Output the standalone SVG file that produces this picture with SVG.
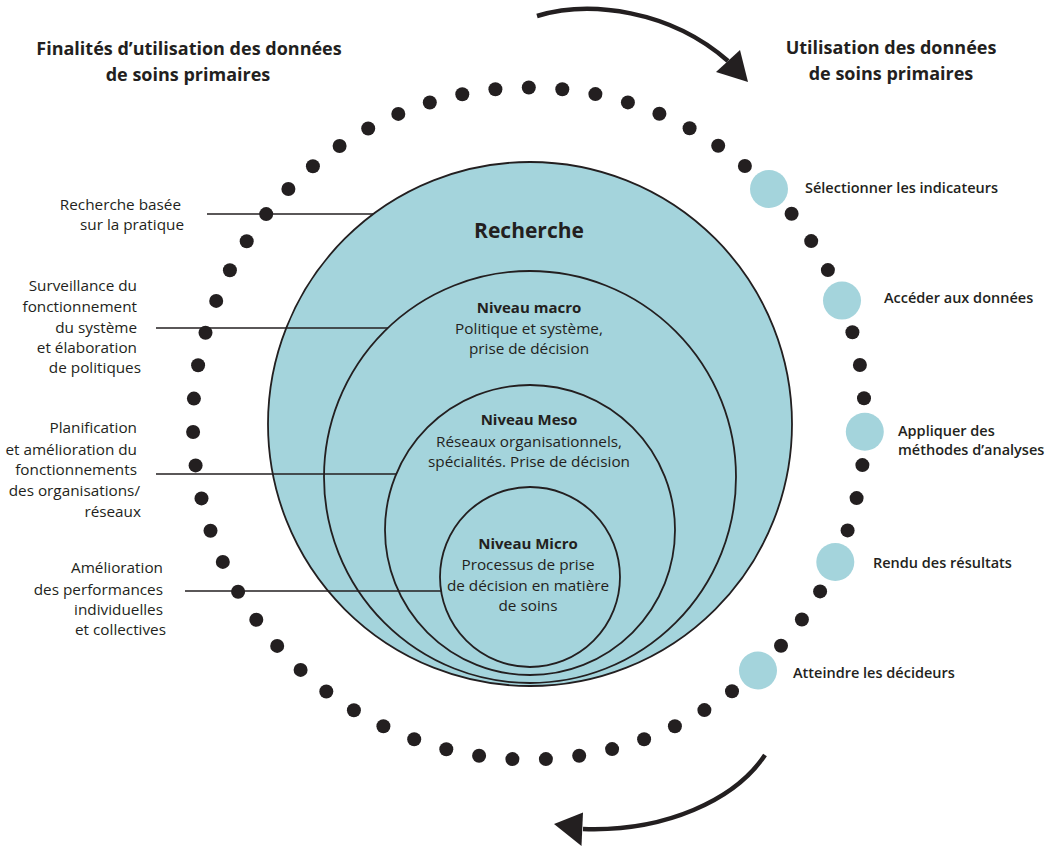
<svg xmlns="http://www.w3.org/2000/svg" width="1056" height="847" viewBox="0 0 1056 847">
<style>
text{font-family:"Open Sans","Noto Sans","Liberation Sans",sans-serif;fill:#231f20}
.t{font-size:18px;font-weight:700;text-anchor:middle}
.l{font-size:15.3px;text-anchor:end}
.r{font-size:14.5px;font-weight:600}
.c{font-size:15.3px;text-anchor:middle}
.b{font-weight:700;font-size:15px}
.ring{fill:#a4d4dc;stroke:#231f20;stroke-width:1.8}
.dot{fill:#231f20}
.step{fill:#a4d4dc}
.ln{stroke:#231f20;stroke-width:1.6;fill:none}
.arr{stroke:#231f20;stroke-width:4.5;fill:none}
.head{fill:#231f20}
</style>
<rect width="1056" height="847" fill="#ffffff"/>
<g id="titles">
<text class="t" x="189" y="55">Finalités d’utilisation des données</text>
<text class="t" x="188" y="81">de soins primaires</text>
<text class="t" x="891" y="54">Utilisation des données</text>
<text class="t" x="891" y="80">de soins primaires</text>
</g>
<g id="recherche">
<circle class="ring" cx="530" cy="424" r="262"/>
<text x="529" y="238" style="font-size:21px;font-weight:700;text-anchor:middle">Recherche</text>
</g>
<g id="macro">
<circle class="ring" cx="530" cy="477" r="206"/>
<text class="c b" x="529" y="313">Niveau macro</text>
<text class="c" x="529" y="333.5">Politique et système,</text>
<text class="c" x="529" y="354">prise de décision</text>
</g>
<g id="meso">
<circle class="ring" cx="530" cy="530" r="145"/>
<text class="c b" x="529" y="425">Niveau Meso</text>
<text class="c" x="529" y="446.5">Réseaux organisationnels,</text>
<text class="c" x="529" y="467">spécialités. Prise de décision</text>
</g>
<g id="micro">
<circle class="ring" cx="530" cy="577" r="90"/>
<text class="c b" x="528" y="549">Niveau Micro</text>
<text class="c" x="528" y="570">Processus de prise</text>
<text class="c" x="528" y="590.5">de décision en matière</text>
<text class="c" x="528" y="611">de soins</text>
</g>
<g id="connectors">
<line class="ln" x1="207" y1="214" x2="373" y2="214"/>
<line class="ln" x1="156" y1="328" x2="388" y2="328"/>
<line class="ln" x1="156" y1="474" x2="397" y2="474"/>
<line class="ln" x1="185" y1="591" x2="441" y2="591"/>
<path class="arr" d="M537,16 C590,0 670,10 728,61"/>
<polygon class="head" points="748,82 716,72 740,50"/>
<path class="arr" d="M765,755 C735,800 665,832 583,829"/>
<polygon class="head" points="554,824 583,812.5 581.5,846"/>
</g>
<g id="dotted-ring">
<circle class="dot" cx="862.4" cy="465.1" r="7"/>
<circle class="dot" cx="856.6" cy="498.1" r="7"/>
<circle class="dot" cx="847.6" cy="530.4" r="7"/>
<circle class="dot" cx="820.1" cy="591.4" r="7"/>
<circle class="dot" cx="801.9" cy="619.5" r="7"/>
<circle class="dot" cx="781.0" cy="645.7" r="7"/>
<circle class="dot" cx="732.0" cy="691.3" r="7"/>
<circle class="dot" cx="704.4" cy="710.1" r="7"/>
<circle class="dot" cx="674.9" cy="726.2" r="7"/>
<circle class="dot" cx="644.1" cy="739.2" r="7"/>
<circle class="dot" cx="612.1" cy="749.1" r="7"/>
<circle class="dot" cx="579.2" cy="755.7" r="7"/>
<circle class="dot" cx="545.9" cy="759.1" r="7"/>
<circle class="dot" cx="512.4" cy="759.1" r="7"/>
<circle class="dot" cx="479.1" cy="755.8" r="7"/>
<circle class="dot" cx="446.3" cy="749.2" r="7"/>
<circle class="dot" cx="414.2" cy="739.3" r="7"/>
<circle class="dot" cx="383.4" cy="726.3" r="7"/>
<circle class="dot" cx="353.9" cy="710.3" r="7"/>
<circle class="dot" cx="326.3" cy="691.5" r="7"/>
<circle class="dot" cx="300.6" cy="669.9" r="7"/>
<circle class="dot" cx="277.2" cy="645.9" r="7"/>
<circle class="dot" cx="256.3" cy="619.8" r="7"/>
<circle class="dot" cx="238.1" cy="591.7" r="7"/>
<circle class="dot" cx="222.8" cy="561.9" r="7"/>
<circle class="dot" cx="210.5" cy="530.7" r="7"/>
<circle class="dot" cx="201.5" cy="498.4" r="7"/>
<circle class="dot" cx="195.6" cy="465.4" r="7"/>
<circle class="dot" cx="193.1" cy="432.0" r="7"/>
<circle class="dot" cx="193.9" cy="398.6" r="7"/>
<circle class="dot" cx="198.1" cy="365.3" r="7"/>
<circle class="dot" cx="205.5" cy="332.7" r="7"/>
<circle class="dot" cx="216.2" cy="300.9" r="7"/>
<circle class="dot" cx="229.9" cy="270.3" r="7"/>
<circle class="dot" cx="246.7" cy="241.3" r="7"/>
<circle class="dot" cx="266.2" cy="214.1" r="7"/>
<circle class="dot" cx="288.4" cy="189.0" r="7"/>
<circle class="dot" cx="312.9" cy="166.2" r="7"/>
<circle class="dot" cx="339.6" cy="146.0" r="7"/>
<circle class="dot" cx="368.2" cy="128.5" r="7"/>
<circle class="dot" cx="398.3" cy="113.9" r="7"/>
<circle class="dot" cx="429.8" cy="102.5" r="7"/>
<circle class="dot" cx="462.3" cy="94.2" r="7"/>
<circle class="dot" cx="495.4" cy="89.2" r="7"/>
<circle class="dot" cx="528.8" cy="87.5" r="7"/>
<circle class="dot" cx="562.3" cy="89.2" r="7"/>
<circle class="dot" cx="595.4" cy="94.1" r="7"/>
<circle class="dot" cx="627.9" cy="102.4" r="7"/>
<circle class="dot" cx="659.4" cy="113.8" r="7"/>
<circle class="dot" cx="689.6" cy="128.3" r="7"/>
<circle class="dot" cx="718.2" cy="145.8" r="7"/>
<circle class="dot" cx="744.9" cy="166.0" r="7"/>
<circle class="dot" cx="791.6" cy="213.8" r="7"/>
<circle class="dot" cx="811.2" cy="241.1" r="7"/>
<circle class="dot" cx="827.9" cy="270.1" r="7"/>
<circle class="dot" cx="852.4" cy="332.3" r="7"/>
<circle class="dot" cx="859.9" cy="365.0" r="7"/>
<circle class="dot" cx="864.0" cy="398.2" r="7"/>
</g>
<g id="label-pratique">
<text class="l" x="181" y="210">Recherche basée</text>
<text class="l" x="184" y="230">sur la pratique</text>
</g>
<g id="label-surveillance">
<text class="l" x="137" y="291">Surveillance du</text>
<text class="l" x="137" y="312">fonctionnement</text>
<text class="l" x="137" y="333">du système</text>
<text class="l" x="137" y="353">et élaboration</text>
<text class="l" x="141" y="373">de politiques</text>
</g>
<g id="label-planification">
<text class="l" x="137" y="433">Planification</text>
<text class="l" x="137" y="455">et amélioration du</text>
<text class="l" x="137" y="475">fonctionnements</text>
<text class="l" x="140" y="496">des organisations/</text>
<text class="l" x="141" y="517">réseaux</text>
</g>
<g id="label-amelioration">
<text class="l" x="163" y="573">Amélioration</text>
<text class="l" x="163" y="595">des performances</text>
<text class="l" x="163" y="615">individuelles</text>
<text class="l" x="166" y="635">et collectives</text>
</g>
<g id="step-selectionner">
<circle class="step" cx="769" cy="189" r="19"/>
<text class="r" x="805" y="193">Sélectionner les indicateurs</text>
</g>
<g id="step-acceder">
<circle class="step" cx="842" cy="300.6" r="19"/>
<text class="r" x="884" y="303">Accéder aux données</text>
</g>
<g id="step-appliquer">
<circle class="step" cx="864.8" cy="431.7" r="19"/>
<text class="r" x="898" y="436">Appliquer des</text>
<text class="r" x="898" y="455">méthodes d’analyses</text>
</g>
<g id="step-rendu">
<circle class="step" cx="835.3" cy="562" r="19"/>
<text class="r" x="873" y="568">Rendu des résultats</text>
</g>
<g id="step-atteindre">
<circle class="step" cx="758" cy="670.5" r="19"/>
<text class="r" x="793" y="678">Atteindre les décideurs</text>
</g>
</svg>
